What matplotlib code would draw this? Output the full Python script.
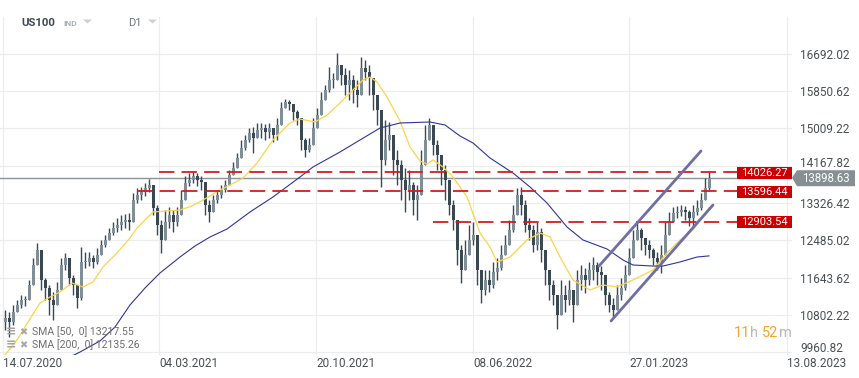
import numpy as np
import matplotlib
matplotlib.use("Agg")
import matplotlib.pyplot as plt
from matplotlib import transforms
from matplotlib.patches import Rectangle, Polygon

plt.rcParams['font.family'] = ['Roboto', 'DejaVu Sans']

# ---------------- data (US100, D1; one candle per 4 bars) ----------------
opens = [10644, 10734, 10644, 10870, 11028, 11141, 11141, 11479, 11930, 12268,
         11592, 11411, 11141, 11028, 11366, 11930, 12088, 11637, 11479, 11186,
         11998, 11998, 12088, 11998, 12156, 12381, 12494, 12652, 12765, 12832,
         12900, 12945, 12900, 13396, 13509, 13577, 13667, 13735, 13216, 12832,
         12494, 12900, 13058, 12900, 13058, 13396, 13780, 13847, 13938, 13847,
         13802, 13283, 13126, 13396, 13509, 13622, 13735, 13960, 14118, 14344,
         14569, 14750, 14908, 14795, 14975, 15020, 14930, 15020, 14862, 15088,
         15471, 15607, 15562, 15381, 15246, 14750, 14524, 14637, 15020, 15314,
         15652, 15878, 16103, 16103, 16441, 16216, 15990, 16103, 15878, 15765,
         16374, 16284, 16148, 15765, 15426, 14299, 14750, 14862, 14299, 14186,
         13847, 13622, 13735, 13396, 13509, 14186, 14750, 15088, 14637, 14411,
         14073, 13847, 13283, 12945, 12268, 11817, 12156, 12494, 12607, 11817,
         11366, 11592, 11479, 11772, 11862, 12156, 12381, 12720, 13058, 13509,
         13283, 12832, 12720, 12381, 12674, 12268, 11817, 11479, 11253, 10802,
         11253, 11141, 11366, 11028, 11592, 11704, 11592, 11817, 11930, 11772,
         11704, 11253, 11028, 10915, 11253, 11411, 11704, 12088, 12494, 12720,
         12539, 12381, 12268, 12088, 11998, 12156, 12607, 12900, 13103, 13126,
         13171, 13126, 12990, 13126, 13216, 13396, 13667]
highs = [10915, 10870, 11028, 11141, 11253, 11231, 11592, 12088, 12426, 12268,
         11637, 11479, 11321, 11547, 12088, 12201, 12088, 11704, 11479, 12336,
         12223, 12223, 12156, 12313, 12494, 12607, 12765, 12900, 12990, 13058,
         13080, 13103, 13554, 13667, 13689, 13780, 13870, 13735, 13283, 12945,
         13171, 13238, 13171, 13238, 13622, 13938, 14005, 14028, 14005, 13938,
         13802, 13396, 13509, 13622, 13735, 13847, 14073, 14253, 14456, 14750,
         14862, 15020, 15043, 15133, 15133, 15111, 15133, 15020, 15246, 15607,
         15675, 15652, 15562, 15426, 15246, 14795, 14795, 15246, 15471, 15832,
         15990, 16396, 16261, 16712, 16441, 16374, 16329, 16216, 16103, 16622,
         16554, 16441, 16148, 15765, 15426, 15201, 15156, 14862, 14524, 14299,
         14118, 14073, 13802, 13735, 14524, 15088, 15246, 15088, 14750, 14411,
         14186, 13847, 13396, 12945, 12381, 12494, 12832, 12900, 12607, 11817,
         11817, 11817, 11998, 12088, 12381, 12607, 12945, 13283, 13667, 13689,
         13396, 12990, 12832, 12900, 12765, 12268, 11817, 11592, 11253, 11592,
         11479, 11592, 11366, 11817, 11930, 11862, 11998, 12110, 11998, 11907,
         11704, 11321, 11186, 11479, 11637, 11930, 12313, 12720, 12877, 12765,
         12539, 12494, 12313, 12223, 12381, 12900, 13126, 13238, 13261, 13283,
         13261, 13171, 13283, 13396, 13554, 13892, 14028]
lows = [10464, 10306, 10577, 10870, 10960, 11005, 11141, 11479, 11930, 11366,
        11141, 10802, 10689, 11028, 11366, 11817, 11479, 11253, 10960, 11141,
        11862, 11907, 11862, 11953, 12156, 12336, 12494, 12607, 12674, 12720,
        12765, 12720, 12900, 13329, 13396, 13486, 13577, 13058, 12607, 12201,
        12494, 12765, 12674, 12810, 13058, 13396, 13712, 13780, 13712, 13622,
        13058, 12900, 13126, 13329, 13441, 13577, 13735, 13960, 14118, 14344,
        14524, 14705, 14456, 14795, 14795, 14750, 14795, 14705, 14750, 15088,
        15471, 15426, 15201, 15088, 14524, 14366, 14479, 14637, 15020, 15314,
        15652, 15832, 15923, 16103, 15990, 15765, 15652, 15584, 15494, 15765,
        16103, 15765, 15426, 15088, 13689, 14186, 14524, 13960, 13735, 13396,
        13126, 13396, 13058, 12945, 13509, 14186, 14750, 14411, 14073, 13735,
        13396, 13058, 12720, 11930, 11524, 11817, 12156, 12381, 11479, 11073,
        11253, 11321, 11411, 11592, 11817, 12156, 12381, 12674, 13058, 13058,
        12674, 12494, 12223, 12268, 11998, 11479, 11141, 11028, 10486, 10802,
        10870, 11028, 10644, 11028, 11366, 11298, 11479, 11592, 11479, 11366,
        11028, 10870, 10757, 10915, 11141, 11366, 11704, 12088, 12494, 12268,
        12156, 12088, 11930, 11817, 11750, 12156, 12607, 12900, 12990, 13035,
        12945, 12810, 12787, 13058, 13171, 13396, 13622]
closes = [10734, 10644, 10870, 11028, 11141, 11141, 11479, 11930, 12268, 11592,
          11411, 11141, 11028, 11366, 11930, 12088, 11637, 11479, 11186, 11998,
          11998, 12088, 11998, 12156, 12381, 12494, 12652, 12765, 12832, 12900,
          12945, 12900, 13396, 13509, 13577, 13667, 13735, 13216, 12832, 12494,
          12900, 13058, 12900, 13058, 13396, 13780, 13847, 13938, 13847, 13802,
          13283, 13126, 13396, 13509, 13622, 13735, 13960, 14118, 14344, 14569,
          14750, 14908, 14795, 14975, 15020, 14930, 15020, 14862, 15088, 15471,
          15607, 15562, 15381, 15246, 14750, 14524, 14637, 15020, 15314, 15652,
          15878, 16103, 16103, 16441, 16216, 15990, 16103, 15878, 15765, 16374,
          16284, 16148, 15765, 15426, 14299, 14750, 14862, 14299, 14186, 13847,
          13622, 13735, 13396, 13509, 14186, 14750, 15088, 14637, 14411, 14073,
          13847, 13283, 12945, 12268, 11817, 12156, 12494, 12607, 11817, 11366,
          11592, 11479, 11772, 11862, 12156, 12381, 12720, 13058, 13509, 13283,
          12832, 12720, 12381, 12674, 12268, 11817, 11479, 11253, 10802, 11253,
          11141, 11366, 11028, 11592, 11704, 11592, 11817, 11930, 11772, 11704,
          11253, 11028, 10915, 11253, 11411, 11704, 12088, 12494, 12720, 12539,
          12381, 12268, 12088, 11998, 12156, 12607, 12900, 13103, 13126, 13171,
          13126, 12990, 13126, 13216, 13396, 13667, 13898.63]

sma50_x = [2, 14, 25, 37, 47, 57, 69, 80, 90, 100, 114, 127, 134, 150, 164, 177, 189, 200,
           217, 227, 240, 254, 270, 287, 297, 312, 324, 337, 350, 360, 367, 374, 384, 397,
           407, 417, 424, 430, 440, 450, 464, 477, 487, 494, 507, 524, 537, 547, 557, 570,
           587, 600, 614, 630, 650, 664, 677, 690, 706]
sma50_v = [9900, 10238, 10644, 11073, 11208, 11321, 11524, 11434, 11547, 11885, 12201, 12539,
           12765, 13126, 13148, 13171, 13261, 13396, 13622, 13735, 13892, 14231, 14750, 15133,
           15223, 15156, 15314, 15584, 15878, 16103, 16171, 16058, 15719, 15178, 14592, 14276,
           14208, 14299, 14141, 13915, 13464, 12652, 12336, 11998, 12110, 12494, 12652, 12562,
           12110, 11592, 11366, 11479, 11434, 11592, 11817, 12201, 12494, 12720, 13217.55]
sma200_x = [67, 77, 97, 112, 127, 142, 157, 177, 192, 207, 224, 247, 270, 297, 310, 337, 357,
            377, 397, 427, 442, 457, 470, 487, 510, 527, 544, 564, 580, 604, 620, 630, 650,
            660, 677, 694, 706]
sma200_v = [9855, 9967, 10216, 10531, 11028, 11411, 11750, 12110, 12359, 12562, 12742, 13126,
            13464, 13915, 14141, 14479, 14750, 15020, 15133, 15156, 15088, 14840, 14682, 14344,
            14005, 13689, 13329, 12787, 12494, 12291, 12043, 11930, 11907, 11907, 11998, 12110,
            12135.26]

levels = [14026.27, 13596.44, 12903.54]
level_start = [156, 134, 430]
channel_upper_x = [596, 698]
channel_upper_v = [11907, 14501]
channel_lower_x = [608, 710]
channel_lower_v = [10667, 13283]

price_ticks = [9960.82, 10802.22, 11643.62, 12485.02, 13326.42, 14167.82, 15009.22,
               15850.62, 16692.02]
date_labels = ['14.07.2020', '04.03.2021', '20.10.2021', '08.06.2022', '27.01.2023', '13.08.2023']
date_pos = [0, 156, 313, 470, 626, 784]

# ---------------- figure ----------------
W, H = 859, 378
fig = plt.figure(figsize=(W / 100, H / 100), dpi=100)


def fx(px):
    return px / W


def fy(py):
    return 1 - py / H


AX_L, AX_R, AX_T, AX_B = 0, 792, 17, 355
ax = fig.add_axes([fx(AX_L), fy(AX_B), (AX_R - AX_L) / W, (AX_B - AX_T) / H])
ax.set_xlim(-3, 789)
ax.set_ylim(9899.9, 17524.1)
dpp = (17524.1 - 9899.9) / (AX_B - AX_T)  # price units per pixel
for s in ax.spines.values():
    s.set_visible(False)

ax.set_xticks(date_pos)
ax.set_xticklabels(date_labels, ha='left')
ax.set_yticks(price_ticks)
ylab = [f'{v:.2f}' for v in price_ticks]
ylab[0] = ''
ylab[5] = ''
ax.set_yticklabels(ylab)
ax.yaxis.tick_right()
ax.tick_params(length=0, labelsize=8.5, labelcolor='#4a4f53')
ax.tick_params(axis='x', pad=1.5)
ax.tick_params(axis='y', pad=5.8)
ax.grid(True, color='#ececec', lw=0.8)
ax.set_axisbelow(True)
# labels that are nudged: bottom one up above its grid line, 14167.82 clear of the price tag
for idx, dy in ((0, 4), (5, 2)):
    tr = transforms.offset_copy(ax.get_yaxis_transform(), fig=fig, x=8, y=dy, units='dots')
    ax.text(1.0, price_ticks[idx], f'{price_ticks[idx]:.2f}', transform=tr, ha='left',
            va='center', fontsize=8.5, color='#4a4f53', clip_on=False)

# current price line
last = closes[-1]
ax.axhline(last, color='#8c9295', lw=1.0, zorder=1.5)

# candles
o = np.array(opens, float)
h = np.array(highs, float)
l = np.array(lows, float)
c = np.array(closes, float)
x = np.arange(len(c)) * 4 + 2
up = c >= o
dark, light = '#3a4852', '#7f8e97'
ax.vlines(x, l, h, color=dark, lw=1.0, zorder=2)
body_lo = np.minimum(o, c)
body_h = np.maximum(np.abs(c - o), 1.2 * dpp)
ax.bar(x, body_h, bottom=body_lo, width=3.0, color=np.where(up, light, dark),
       linewidth=0, zorder=2.2)

# moving averages
ax.plot(sma50_x, sma50_v, color='#f9d54a', lw=0.9, zorder=3)
ax.plot(sma200_x, sma200_v, color='#2f3597', lw=0.8, zorder=3)

# horizontal levels
LEVEL_END = 734
for lv, st in zip(levels, level_start):
    ax.plot([st, LEVEL_END], [lv, lv], color='#d41c1c', lw=1.3, ls=(0, (8.5, 4)), zorder=4)

# channel
ax.plot(channel_upper_x, channel_upper_v, color='#6f6fa3', lw=2.0, zorder=4,
        solid_capstyle='round')
ax.plot(channel_lower_x, channel_lower_v, color='#6f6fa3', lw=2.0, zorder=4,
        solid_capstyle='round')

# level labels
bt = transforms.blended_transform_factory(ax.transAxes, ax.transData)
bx0 = (737 - AX_L) / (AX_R - AX_L)
for lv in levels:
    ax.add_patch(Rectangle((bx0, lv - 6.5 * dpp), 1 - bx0, 12 * dpp, transform=bt,
                           fc='#cc0000', ec='none', zorder=6, clip_on=False))
    ax.text((bx0 + 1) / 2, lv - 0.5 * dpp, f'{lv:.2f}', transform=bt, ha='center',
            va='center', color='white', fontsize=8, zorder=7, clip_on=False)

# current price tag
ft = transforms.blended_transform_factory(fig.transFigure, ax.transData)
ax.add_patch(Polygon([(fx(792), last), (fx(797), last + 7.5 * dpp), (fx(855), last + 7.5 * dpp),
                      (fx(855), last - 8.5 * dpp), (fx(797), last - 8.5 * dpp)],
                     closed=True, transform=ft, fc='#858f94', ec='none', zorder=6,
                     clip_on=False))
ax.text(fx(826), last - 0.8 * dpp, f'{last:.2f}', transform=ft, ha='center', va='center',
        color='white', fontsize=8.3, zorder=7, clip_on=False)

# header
fig.text(fx(21), fy(23.5), 'US100', fontsize=8.2, fontweight='bold', color='#3c4750',
         va='center', ha='left')
fig.text(fx(63), fy(23.5), 'IND', fontsize=6, fontweight='bold', color='#aab2b8',
         va='center', ha='left')
fig.text(fx(128), fy(23.5), 'D1', fontsize=8, color='#6b757c', va='center', ha='left')
for tx in (83, 148):
    fig.patches.append(Polygon([(fx(tx), fy(19.5)), (fx(tx + 9), fy(19.5)),
                                (fx(tx + 4.5), fy(23.5))], closed=True,
                               transform=fig.transFigure, fc='#cdd1d4', ec='none'))

# legend
leg_rows = [(332, f'SMA [50,  0] {sma50_v[-1]:.2f}'), (345, f'SMA [200,  0] {sma200_v[-1]:.2f}')]
for yy, txt in leg_rows:
    fig.text(fx(6), fy(yy), '\u2261', fontsize=9, fontweight='bold', color='#a3a3a3',
             va='center', ha='left', family=['DejaVu Sans'])
    fig.text(fx(19), fy(yy), '\u2716', fontsize=7, color='#a8a8a8', va='center', ha='left',
             family=['DejaVu Sans'])
    fig.text(fx(32), fy(yy), txt, fontsize=7.6, color='#6e6e6e', va='center', ha='left')

# timer
orange, grey = '#f6a234', '#b5b9bc'
for xx, t, col in [(734, '11', orange), (750, 'h', grey), (762, '52', orange), (779, 'm', grey)]:
    fig.text(fx(xx), fy(333), t, fontsize=10.5, color=col, va='center', ha='left')

fig.savefig('out.png', dpi=100)
